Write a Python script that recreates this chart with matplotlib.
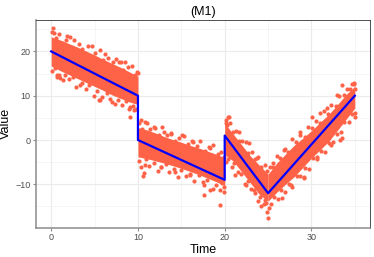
# Serie con cambios estructurales (M1): nube de puntos y ajuste por tramos

import numpy as np
import matplotlib.pyplot as plt

plt.rcParams['font.family'] = ['Liberation Sans', 'DejaVu Sans']

# Ajuste por tramos (línea azul)
t_ajuste = [0, 10, 10, 20, 20, 25, 35]
y_ajuste = [20, 10, 0, -9, 1, -12, 10]

# Núcleo denso de la nube: límites superior / inferior por tramo
t_tramo1 = [0, 1, 2, 3, 4, 5, 6, 7, 8, 9, 10]
sup_tramo1 = [23.3, 22.6, 21.8, 21.0, 20.1, 19.2, 18.2, 17.3, 16.4, 15.4, 14.4]
inf_tramo1 = [16.7, 15.7, 14.8, 13.9, 13.0, 12.1, 11.2, 10.2, 9.4, 8.6, 8.0]

t_tramo2 = [10, 11, 12, 13, 14, 15, 16, 17, 18, 19, 20]
sup_tramo2 = [2.8, 2.3, 1.6, 0.8, 0.1, -0.5, -1.2, -1.8, -2.5, -3.2, -4.0]
inf_tramo2 = [-3.8, -4.2, -4.7, -5.2, -5.8, -6.4, -7.1, -7.8, -8.6, -9.4, -10.3]

t_tramo3 = [20, 21, 22, 23, 24, 25]
sup_tramo3 = [3.8, 1.3, -1.2, -3.7, -5.7, -7.7]
inf_tramo3 = [-3.3, -4.8, -7.3, -9.8, -12.3, -13.8]

t_tramo4 = [25, 26, 27, 28, 29, 30, 31, 32, 33, 34, 35]
sup_tramo4 = [-7.7, -5.2, -3.2, -1.2, 0.4, 2.1, 4.0, 5.8, 8.0, 10.3, 12.1]
inf_tramo4 = [-13.8, -11.8, -10.0, -8.3, -6.2, -4.1, -2.2, -0.3, 2.2, 4.7, 7.2]

# Puntos en el borde superior de la nube
t_borde_sup = [0.1, 0.5, 0.9, 1.3, 1.7, 2.2, 2.8, 3.2, 3.6, 4.2, 4.5, 5.1, 5.6, 6.0,
               6.5, 7.1, 7.5, 8.3, 8.8, 9.3, 9.7, 10.0,
               10.1, 10.5, 11.0, 11.4, 12.0, 12.4, 12.8, 13.3, 13.8, 14.3, 14.7,
               15.3, 15.8, 16.2, 16.8, 17.2, 17.7, 18.2, 18.7, 19.2, 19.6, 19.9,
               20.1, 20.3, 20.6, 20.9, 21.3, 21.6, 22.0, 22.4, 22.7, 23.1, 23.5,
               23.8, 24.2, 24.6, 24.9,
               25.2, 25.6, 26.0, 26.4, 26.9, 27.3, 27.8, 28.2, 28.7, 29.2, 29.6,
               30.1, 30.5, 31.0, 31.4, 31.9, 32.3, 32.8, 33.2, 33.7, 34.1, 34.5,
               34.9, 35.0]
y_borde_sup = [24.3, 23.0, 23.9, 22.0, 22.6, 23.3, 20.6, 21.6, 20.5, 21.2, 19.0, 19.7,
               20.4, 18.0, 18.6, 17.5, 18.3, 15.8, 16.5, 16.8, 14.7, 15.2,
               3.9, 2.5, 3.9, 2.4, 2.6, 1.1, 2.9, 1.1, 1.5, -0.2, 0.5,
               1.0, -1.0, -0.2, -1.3, -0.3, -2.4, -1.6, -1.2, -3.2, -2.6, -3.9,
               4.6, 3.5, 3.9, 1.9, 2.1, -0.2, -0.2, -0.5, -3.0, -2.7, -4.3,
               -3.8, -6.0, -5.7, -7.0,
               -6.1, -6.2, -3.5, -4.0, -2.1, -2.7, 0.3, -0.4, 1.1, 0.7, 3.0,
               2.7, 4.2, 3.9, 6.5, 5.9, 7.8, 7.6, 9.9, 10.1, 11.6, 11.5,
               12.7, 11.5]

# Puntos en el borde inferior de la nube
t_borde_inf = [0.05, 0.4, 1.0, 1.6, 2.0, 2.5, 2.9, 3.5, 4.0, 4.4, 4.9, 5.3, 5.9, 6.4,
               6.8, 7.3, 7.7, 8.2, 8.6, 9.0, 9.4, 9.8,
               10.1, 10.4, 10.9, 11.3, 11.8, 12.3, 12.7, 13.2, 13.6, 14.1, 14.6,
               15.0, 15.5, 16.0, 16.5, 17.0, 17.5, 18.0, 18.6, 19.0, 19.5, 19.9,
               20.1, 20.4, 20.8, 21.1, 21.5, 21.9, 22.3, 22.7, 23.0, 23.4, 23.8,
               24.1, 24.5, 24.8,
               25.3, 25.7, 26.1, 26.5, 26.9, 27.4, 27.8, 28.3, 28.7, 29.3, 29.7,
               30.2, 30.6, 31.1, 31.6, 32.0, 32.5, 32.9, 33.4, 33.8, 34.3, 34.7,
               35.0]
y_borde_inf = [15.5, 16.2, 13.9, 14.7, 13.7, 14.3, 12.0, 12.8, 11.6, 12.5, 9.9, 11.1,
               9.8, 10.6, 9.3, 8.1, 9.1, 8.0, 8.9, 6.9, 7.7, 7.0,
               -4.7, -6.0, -4.3, -5.8, -5.1, -7.1, -6.0, -5.4, -7.2, -6.6, -8.3,
               -6.8, -8.1, -7.7, -9.3, -7.9, -9.4, -9.1, -11.0, -10.1, -11.3, -10.6,
               -4.9, -4.3, -6.2, -5.2, -7.3, -7.6, -9.9, -9.3, -11.1, -11.4, -13.8,
               -12.9, -14.5, -14.2,
               -14.5, -12.9, -13.4, -11.2, -11.7, -9.9, -10.7, -8.1, -8.2, -6.3, -6.6,
               -4.0, -4.2, -2.5, -2.7, -0.7, -0.4, 1.4, 1.7, 4.0, 4.1, 5.9,
               6.1]

# Puntos sueltos (más alejados de la nube)
t_sueltos = [0.2, 0.35, 2.6, 4.7, 3.9, 8.0, 9.9, 0.7, 1.4, 3.3, 5.5, 7.0, 9.1,
             5.65, 9.1, 9.5, 7.8, 8.5, 0.65, 0.95, 1.8, 6.2,
             10.3, 10.85, 11.8, 13.0, 15.1, 16.4, 18.3, 10.65, 10.85, 12.6,
             14.3, 16.0, 17.6, 18.3, 19.9, 19.5, 17.6, 10.6, 19.7, 13.8,
             20.4, 20.1, 20.45, 21.6, 22.8, 23.7, 21.2, 22.4, 23.5, 24.7,
             25.1, 25.0, 24.9, 26.6, 24.2,
             25.6, 34.7, 33.5, 33.0, 31.0, 30.1, 28.7, 26.8, 35.0, 33.5, 32.2,
             30.6, 29.1, 28.3, 27.6, 29.1, 33.3, 26.4, 34.9, 31.8]
y_sueltos = [25.2, 24.1, 22.6, 21.2, 19.6, 17.7, 15.4, 14.7, 13.5, 12.4, 9.0, 8.6, 7.5,
             9.0, 5.3, 6.8, 17.7, 17.7, 14.3, 14.7, 23.4, 19.5,
             4.5, 4.0, 3.0, 1.9, 1.1, -0.4, -1.9, -7.5, -5.6, -6.0,
             -7.3, -8.0, -10.2, -11.3, -11.7, -14.7, -12.4, -8.1, -9.8, 1.4,
             5.1, 3.8, 5.1, 1.9, -0.75, -4.1, -7.9, -10.2, -12.0, -13.5,
             -15.4, -17.7, -16.3, -13.2, -15.0,
             -5.3, 12.6, 12.4, 10.2, 6.0, 5.3, 1.9, -2.3, 5.3, 0.4, -1.1,
             -3.8, -8.3, -6.8, -10.2, -8.6, 0.0, -6.4, 12.9, 7.2]

color_puntos = '#FF6347'

fig, ax = plt.subplots(figsize=(3.74, 2.57), dpi=100)
fig.subplots_adjust(left=0.0963, right=0.9893, bottom=0.114, top=0.924)

# Nube de puntos
for t, sup, inf in [(t_tramo1, sup_tramo1, inf_tramo1),
                    (t_tramo2, sup_tramo2, inf_tramo2),
                    (t_tramo3, sup_tramo3, inf_tramo3),
                    (t_tramo4, sup_tramo4, inf_tramo4)]:
    ax.fill_between(t, inf, sup, color=color_puntos, lw=0, zorder=2)
ax.scatter(t_borde_sup, y_borde_sup, s=9, color=color_puntos, lw=0, zorder=2)
ax.scatter(t_borde_inf, y_borde_inf, s=9, color=color_puntos, lw=0, zorder=2)
ax.scatter(t_sueltos, y_sueltos, s=9, color=color_puntos, lw=0, zorder=2)

# Ajuste
ax.plot(t_ajuste, y_ajuste, color='#0000FF', lw=1.6, zorder=3)

ax.set_xlim(-1.75, 36.75)
ax.set_ylim(-19.8, 27.2)
ax.set_xticks([0, 10, 20, 30])
ax.set_yticks([-10, 0, 10, 20])
ax.set_xticks([5, 15, 25, 35], minor=True)
ax.set_yticks([-15, -5, 5, 15, 25], minor=True)
ax.grid(which='major', color='#EBEBEB', lw=0.8, zorder=0)
ax.grid(which='minor', color='#F2F2F2', lw=0.5, zorder=0)
ax.set_axisbelow(True)

ax.tick_params(which='major', labelsize=6.5, labelcolor='#4D4D4D', color='#8C8C8C',
               length=2.5, width=0.8, pad=1.5)
ax.tick_params(which='minor', length=0)

for lado in ['left', 'bottom']:
    ax.spines[lado].set_color('#8C8C8C')
    ax.spines[lado].set_linewidth(1.1)
for lado in ['top', 'right']:
    ax.spines[lado].set_color('#333333')
    ax.spines[lado].set_linewidth(0.6)

ax.set_title('(M1)', fontsize=9, pad=3)
ax.set_xlabel('Time', fontsize=9, labelpad=1)
ax.set_ylabel('Value', fontsize=9, labelpad=2)

plt.savefig('out.png', dpi=100)
